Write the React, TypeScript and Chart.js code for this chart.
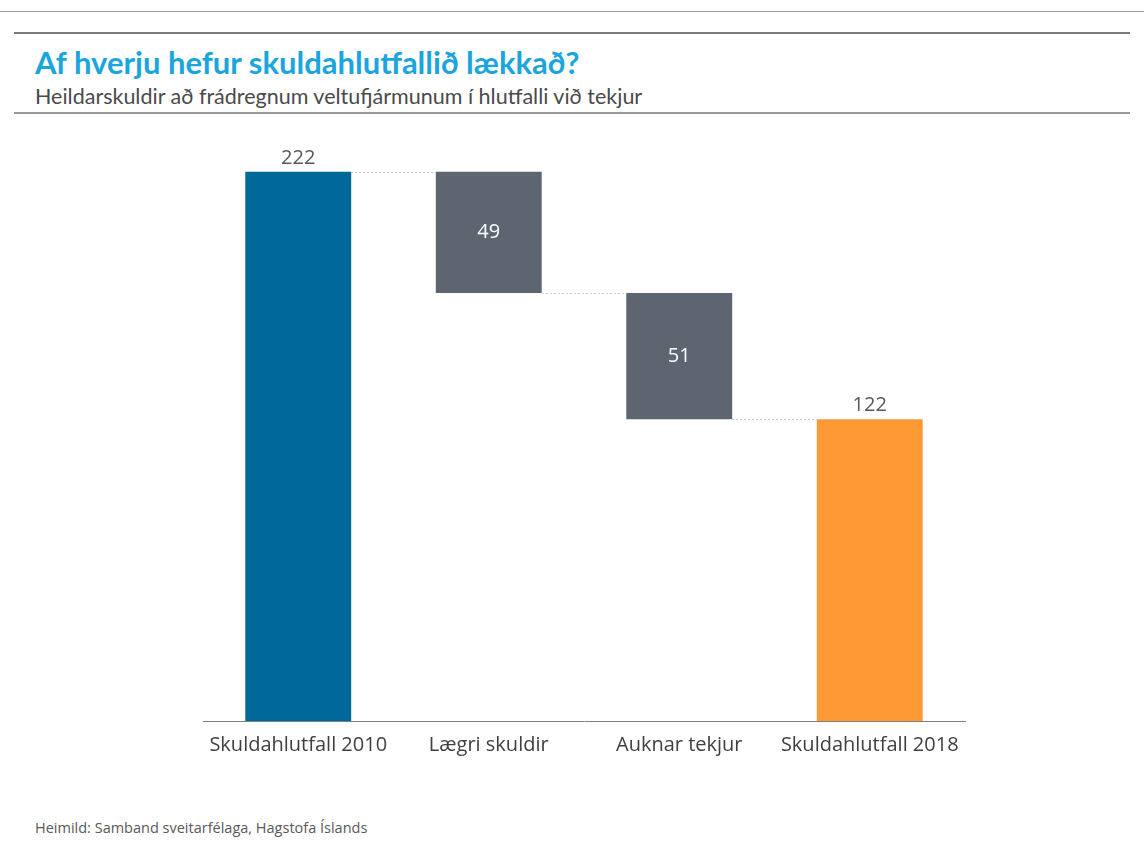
import React, { useEffect, useRef } from "react";
import { Chart, registerables } from "chart.js";

Chart.register(...registerables);

const categories = ["Skuldahlutfall 2010", "Lægri skuldir", "Auknar tekjur", "Skuldahlutfall 2018"];
const values = [222, 49, 51, 122];
const kinds = ["total", "decrease", "decrease", "total"];
const barColors = ["#006999", "#5c6570", "#5c6570", "#fd9a35"];

const Y_MAX = 230;

function buildRanges(): [number, number][] {
  let running = 0;
  return values.map((v, i) => {
    if (kinds[i] === "total") {
      running = v;
      return [0, v] as [number, number];
    }
    const top = running;
    running = running - v;
    return [running, top] as [number, number];
  });
}

const waterfallPlugin = {
  id: "waterfallExtras",
  afterDatasetsDraw(chart: any) {
    const ctx = chart.ctx;
    const meta = chart.getDatasetMeta(0);
    const y = chart.scales.y;
    const ranges = buildRanges();
    ctx.save();
    // connectors
    ctx.strokeStyle = "#c9c9c9";
    ctx.lineWidth = 1;
    ctx.setLineDash([2, 2]);
    for (let i = 0; i < ranges.length - 1; i++) {
      const level = kinds[i] === "total" ? ranges[i][1] : ranges[i][0];
      const a = meta.data[i];
      const b = meta.data[i + 1];
      const py = Math.round(y.getPixelForValue(level)) + 0.5;
      ctx.beginPath();
      ctx.moveTo(a.x + a.width / 2, py);
      ctx.lineTo(b.x - b.width / 2, py);
      ctx.stroke();
    }
    ctx.setLineDash([]);
    // labels
    ctx.font = "20px 'Open Sans'";
    ctx.textAlign = "center";
    for (let i = 0; i < ranges.length; i++) {
      const el = meta.data[i];
      if (kinds[i] === "total") {
        ctx.fillStyle = "#595959";
        ctx.textBaseline = "alphabetic";
        ctx.fillText(String(values[i]), el.x, y.getPixelForValue(ranges[i][1]) - 8);
      } else {
        ctx.fillStyle = "#ffffff";
        ctx.textBaseline = "middle";
        const mid = (y.getPixelForValue(ranges[i][0]) + y.getPixelForValue(ranges[i][1])) / 2;
        ctx.fillText(String(values[i]), el.x, mid);
      }
    }
    ctx.restore();
  },
};

export default function App() {
  const ref = useRef<HTMLCanvasElement>(null);
  useEffect(() => {
    if (!ref.current) return;
    const chart = new Chart(ref.current, {
      type: "bar",
      data: {
        labels: categories,
        datasets: [
          {
            data: buildRanges() as any,
            backgroundColor: barColors,
            borderWidth: 0,
            categoryPercentage: 1,
            barPercentage: 0.556,
          },
        ],
      },
      options: {
        responsive: false,
        animation: false,
        layout: { padding: { left: 203, right: 179, top: 22, bottom: 0 } },
        plugins: { legend: { display: false }, tooltip: { enabled: false }, title: { display: false } },
        scales: {
          x: {
            grid: { display: false, drawTicks: false },
            border: { display: true, color: "#808080", width: 1 },
            ticks: { color: "#404040", font: { family: "'Open Sans'", size: 20 }, padding: 12 },
            afterFit: (scale: any) => {
              scale.height = 60;
            },
          },
          y: { display: false, min: 0, max: Y_MAX },
        },
      },
      plugins: [waterfallPlugin],
    });
    return () => chart.destroy();
  }, []);

  return (
    <div style={{ position: "absolute", left: 0, top: 0, width: 1144, height: 856, background: "#fff", overflow: "hidden" }}>
      <div style={{ position: "absolute", left: 0, right: 0, top: 11, height: 1, background: "#9a9a9a" }} />
      <div style={{ position: "absolute", left: 14, width: 1116, top: 32, height: 2, background: "#7a7a7a" }} />
      <div
        style={{
          position: "absolute",
          left: 35,
          top: 43,
          fontFamily: "Lato, sans-serif",
          fontWeight: 700,
          fontSize: 31,
          color: "#1ba5de",
          whiteSpace: "nowrap",
          lineHeight: "38px",
        }}
      >
        Af hverju hefur skuldahlutfallið lækkað?
      </div>
      <div
        style={{
          position: "absolute",
          left: 35,
          top: 82,
          fontFamily: "Lato, sans-serif",
          fontSize: 21.5,
          color: "#4a4a4a",
          whiteSpace: "nowrap",
          lineHeight: "28px",
        }}
      >
        Heildarskuldir að frádregnum veltufjármunum í hlutfalli við tekjur
      </div>
      <div style={{ position: "absolute", left: 14, width: 1116, top: 112, height: 2, background: "#9a9a9a" }} />
      <canvas ref={ref} width={1144} height={651} style={{ position: "absolute", left: 0, top: 130, width: 1144, height: 651 }} />
      <div
        style={{
          position: "absolute",
          left: 35,
          top: 818,
          fontFamily: "'Open Sans', sans-serif",
          fontSize: 14.5,
          color: "#595959",
          whiteSpace: "nowrap",
          lineHeight: "20px",
        }}
      >
        Heimild: Samband sveitarfélaga, Hagstofa Íslands
      </div>
    </div>
  );
}
